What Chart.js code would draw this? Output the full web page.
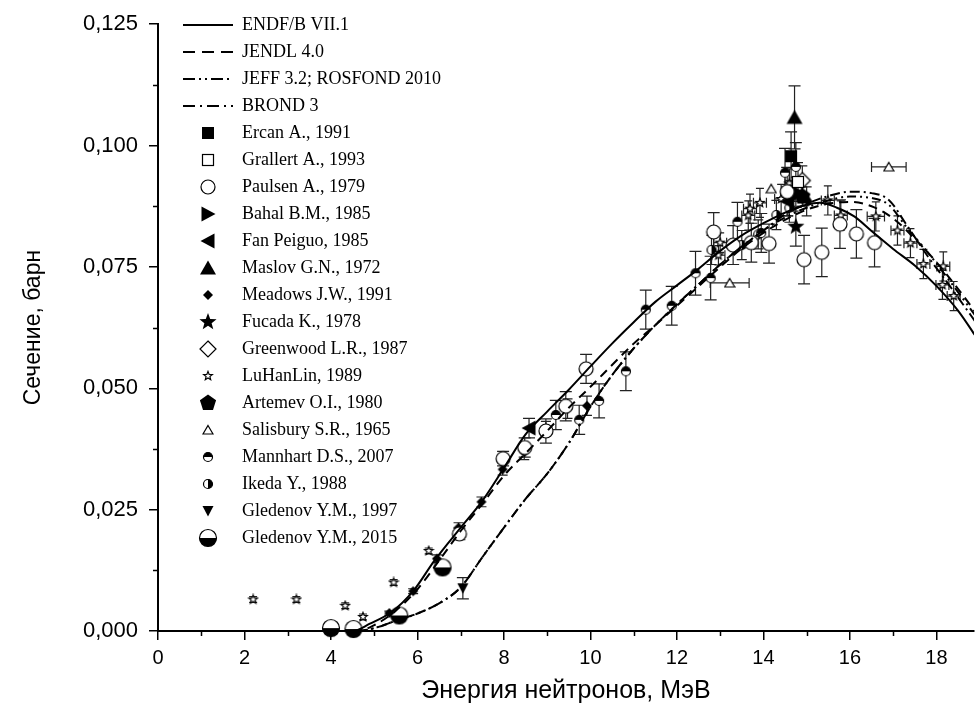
<!DOCTYPE html>
<html><head><meta charset="utf-8">
<script src="https://cdn.jsdelivr.net/npm/chart.js@4.4.0/dist/chart.umd.min.js"></script>
<style>html,body{margin:0;padding:0;background:#fff;overflow:hidden}</style>
</head><body>
<canvas id="c" width="979" height="718"></canvas>
<script>
// ---------- evaluated data (energy MeV, cross section barn) ----------
const endfE  = [0, 4.5, 4.9, 5.4, 5.9, 6.4, 7.0, 7.5, 8.0, 8.5, 9.0, 9.5, 10.0, 10.5, 11.0, 11.5, 12.0, 12.5, 13.0, 13.5, 14.0, 14.5, 15.0, 15.3, 15.7, 16.1, 16.5, 17.0, 17.5, 18.0, 18.5, 19.0];
const endfS  = [0, 0, 0.0015, 0.0039, 0.0082, 0.0146, 0.0213, 0.0268, 0.0336, 0.0405, 0.0452, 0.0497, 0.0545, 0.0592, 0.0636, 0.0678, 0.0712, 0.0746, 0.0783, 0.0815, 0.0840, 0.0862, 0.0878, 0.0882, 0.0872, 0.0854, 0.0824, 0.0787, 0.0753, 0.0711, 0.0660, 0.0595];
const jendlE = [0, 4.6, 5.0, 5.5, 6.0, 6.5, 7.0, 7.5, 8.0, 8.5, 9.0, 9.5, 10.0, 10.5, 11.0, 11.5, 12.0, 12.5, 13.0, 13.5, 14.0, 14.5, 15.0, 15.5, 16.0, 16.5, 17.0, 17.5, 18.0, 18.5, 19.0];
const jendlS = [0, 0, 0.0012, 0.0042, 0.0086, 0.0145, 0.0206, 0.0262, 0.0320, 0.0366, 0.0412, 0.0460, 0.0503, 0.0548, 0.0592, 0.0630, 0.0670, 0.0710, 0.0750, 0.0788, 0.0820, 0.0847, 0.0868, 0.0880, 0.0884, 0.0875, 0.0850, 0.0808, 0.0760, 0.0705, 0.0645];
const jeffE  = [0, 4.6, 5.0, 5.5, 6.0, 6.5, 7.0, 7.5, 8.0, 8.5, 9.0, 9.5, 10.0, 10.5, 11.0, 11.5, 12.0, 12.5, 13.0, 13.5, 14.0, 14.5, 15.0, 15.5, 16.0, 16.5, 16.9, 17.3, 17.8, 18.3, 18.8, 19.0];
const jeffS  = [0, 0, 0.0006, 0.0021, 0.0036, 0.0057, 0.0090, 0.0152, 0.0213, 0.0272, 0.0324, 0.0387, 0.0462, 0.0527, 0.0582, 0.0630, 0.0673, 0.0714, 0.0755, 0.0792, 0.0825, 0.0852, 0.0872, 0.0887, 0.0895, 0.0892, 0.0878, 0.0833, 0.0780, 0.0722, 0.0662, 0.0638];
const brondE = [0, 4.6, 5.0, 5.5, 6.0, 6.5, 7.0, 7.5, 8.0, 8.5, 9.0, 9.5, 10.0, 10.5, 11.0, 11.5, 12.0, 12.5, 13.0, 13.5, 14.0, 14.5, 15.0, 15.5, 16.0, 16.5, 16.9, 17.3, 17.8, 18.3, 18.8, 19.0];
const brondS = [0, 0, 0.0006, 0.0021, 0.0036, 0.0057, 0.0090, 0.0152, 0.0213, 0.0272, 0.0324, 0.0387, 0.0462, 0.0527, 0.0582, 0.0630, 0.0673, 0.0714, 0.0755, 0.0792, 0.0825, 0.0858, 0.0880, 0.0896, 0.0905, 0.0902, 0.0888, 0.0838, 0.0772, 0.0712, 0.0650, 0.0625];

// ---------- experimental data: [E, sigma, dSigma, dE] ----------
const ercan     = [[14.64, 0.0978, 0.005]];
const grallert  = [[14.8, 0.0925, 0.004]];
const paulsen   = [[6.97,0.0200,0.0012],[7.98,0.0355,0.0015],[8.48,0.0378,0.002],[8.97,0.0412,0.0025],[9.43,0.0463,0.003],[9.9,0.0540,0.003],[12.85,0.0822,0.004],[13.3,0.0795,0.004],[13.72,0.0800,0.004],[14.13,0.0798,0.004],[14.55,0.0905,0.005],[14.94,0.0765,0.005],[15.35,0.0780,0.005],[15.77,0.0838,0.005],[16.15,0.0818,0.005],[16.57,0.0800,0.005]];
const bahal     = [[14.75, 0.0905, 0.003]];
const fan       = [[8.58, 0.0418, 0.002],[14.55, 0.0885, 0.003]];
const maslov    = [[14.72, 0.1058, 0.0065]];
const meadows   = [[5.35,0.0037,0.0004],[5.9,0.0082,0.0005],[6.45,0.0149,0.0008],[6.95,0.0213,0.001],[7.48,0.0266,0.001],[7.97,0.0333,0.0012],[8.47,0.0368,0.0015],[8.97,0.0417,0.0015],[9.47,0.0458,0.002],[9.92,0.0464,0.002],[14.7,0.0895,0.003]];
const fucada    = [[14.75, 0.0833, 0.004]];
const greenwood = [[14.9, 0.0928, 0.003]];
const luhanlin  = [[2.2,0.0065,0.0006,0],[3.2,0.0065,0.0006,0],[4.33,0.0052,0.0006,0],[4.74,0.0029,0.0006,0],[5.45,0.0100,0.0006,0],[6.26,0.0165,0.0006,0],[12.96,0.0774,0.002,0.15],[13.0,0.0800,0.002,0.15],[13.65,0.0856,0.003,0.15],[13.69,0.0870,0.003,0.15],[13.92,0.0882,0.003,0.15],[14.41,0.0890,0.003,0.15],[14.6,0.0922,0.003,0.1],[15.49,0.0887,0.003,0.15],[15.79,0.0856,0.003,0.15],[16.6,0.0854,0.003,0.2],[17.1,0.0825,0.003,0.15],[17.4,0.0799,0.003,0.15],[17.7,0.0756,0.003,0.15],[18.16,0.0751,0.003,0.15],[18.14,0.0713,0.003,0.15],[18.4,0.0690,0.003,0.15]];
const artemev   = [[14.9, 0.0895, 0.002]];
const salisbury = [[13.22,0.0717,0,0.45],[14.18,0.0911,0,0],[16.9,0.0956,0,0.4]];
const mannhart  = [[9.2,0.0445,0.003],[9.74,0.0435,0.003],[10.2,0.0474,0.0035],[10.82,0.0535,0.004],[11.28,0.0662,0.004],[11.88,0.0670,0.004],[12.43,0.0737,0.0045],[12.78,0.0727,0.0045],[13.4,0.0843,0.004],[13.95,0.0820,0.004],[14.5,0.0944,0.005],[14.75,0.0956,0.005]];
const ikeda     = [[12.8,0.0785,0.003],[13.5,0.0795,0.003],[13.88,0.0817,0.003],[14.3,0.0857,0.003],[14.6,0.0872,0.003],[15.0,0.0885,0.003]];
const gled97    = [[7.05, 0.0088, 0.0022]];
const gled15    = [[4.0,0.0006,0.0006],[4.52,0.0004,0.0004],[5.58,0.0032,0.0005],[6.58,0.0131,0.0008]];

const xTickStep = 2, yTickStep = 0.025;

// ---------- marker images ----------
function mk(w, h, fn) {
  const c = document.createElement('canvas');
  c.width = w; c.height = h;
  const g = c.getContext('2d');
  g.translate(w / 2, h / 2);
  g.lineWidth = 1.2; g.strokeStyle = '#000'; g.fillStyle = '#000';
  fn(g);
  return c;
}
function poly(g, pts, fill, stroke) {
  g.beginPath(); g.moveTo(pts[0][0], pts[0][1]);
  for (let i = 1; i < pts.length; i++) g.lineTo(pts[i][0], pts[i][1]);
  g.closePath();
  if (fill) { g.fillStyle = fill; g.fill(); }
  if (stroke) { g.strokeStyle = stroke; g.stroke(); }
}
function starPts(ro, ri) {
  const p = [];
  for (let i = 0; i < 10; i++) { const r = i % 2 ? ri : ro; const a = -Math.PI / 2 + i * Math.PI / 5; p.push([r * Math.cos(a), r * Math.sin(a)]); }
  return p;
}
function ngon(n, r) { const p = []; for (let i = 0; i < n; i++) { const a = -Math.PI / 2 + i * 2 * Math.PI / n; p.push([r * Math.cos(a), r * Math.sin(a)]); } return p; }
function halfCircle(g, r, a0) {
  g.beginPath(); g.arc(0, 0, r, 0, 2 * Math.PI); g.fillStyle = '#fff'; g.fill();
  g.beginPath(); g.arc(0, 0, r, a0, a0 + Math.PI); g.closePath(); g.fillStyle = '#000'; g.fill();
  g.beginPath(); g.arc(0, 0, r, 0, 2 * Math.PI); g.stroke();
}
function lineSample(dash) {
  return mk(50, 6, g => { g.lineWidth = 2; g.setLineDash(dash); g.beginPath(); g.moveTo(-25, 0); g.lineTo(25, 0); g.stroke(); });
}
const M = {
  endf: lineSample([]),
  jendl: lineSample([12, 7]),
  jeff: lineSample([12, 4, 2, 4, 2, 4]),
  brond: lineSample([12, 5, 2, 5]),
  ercan: mk(14, 14, g => g.fillRect(-6, -6, 12, 12)),
  grallert: mk(14, 14, g => { g.fillStyle = '#fff'; g.fillRect(-5.5, -5.5, 11, 11); g.strokeRect(-5.5, -5.5, 11, 11); }),
  paulsen: mk(18, 18, g => { g.beginPath(); g.arc(0, 0, 7, 0, 2 * Math.PI); g.fillStyle = '#fff'; g.fill(); g.stroke(); }),
  bahal: mk(18, 18, g => poly(g, [[7.5, 0], [-6.5, -7.5], [-6.5, 7.5]], '#000')),
  fan: mk(18, 18, g => poly(g, [[-7.5, 0], [6.5, -7.5], [6.5, 7.5]], '#000')),
  maslov: mk(18, 18, g => poly(g, [[0, -7.5], [8, 6.5], [-8, 6.5]], '#000')),
  meadows: mk(12, 12, g => poly(g, [[0, -5], [5, 0], [0, 5], [-5, 0]], '#000')),
  fucada: mk(20, 20, g => poly(g, starPts(9, 3.8), '#000')),
  greenwood: mk(20, 20, g => poly(g, [[0, -8], [8, 0], [0, 8], [-8, 0]], '#fff', '#000')),
  luhanlin: mk(12, 12, g => poly(g, starPts(4.6, 2.0), '#fff', '#000')),
  artemev: mk(20, 20, g => poly(g, ngon(5, 8.5), '#000')),
  salisbury: mk(12, 12, g => poly(g, [[0, -4.5], [5, 4], [-5, 4]], '#fff', '#000')),
  mannhart: mk(12, 12, g => halfCircle(g, 4.5, Math.PI)),
  ikeda: mk(12, 12, g => halfCircle(g, 4.5, -Math.PI / 2)),
  gled97: mk(14, 14, g => poly(g, [[0, 5.5], [5.5, -5], [-5.5, -5]], '#000')),
  gled15: mk(20, 20, g => halfCircle(g, 8.5, 0))
};

// ---------- datasets ----------
const curve = (E, S) => E.map((e, i) => ({x: e, y: S[i]}));
const pts = arr => arr.map(p => ({x: p[0], y: p[1], dy: p[2] || 0, dx: p[3] || 0}));
function lineDs(label, E, S, dash, img) {
  return {type: 'line', label, data: curve(E, S), borderColor: '#000', backgroundColor: '#000', borderWidth: 2,
    borderDash: dash, pointRadius: 0, pointHoverRadius: 0, pointStyle: img, cubicInterpolationMode: 'monotone', showLine: true, fill: false};
}
function markDs(label, arr, img, cap) {
  return {type: 'scatter', label, data: pts(arr), pointStyle: img, pointRadius: 4, pointHoverRadius: 4,
    borderColor: '#000', backgroundColor: '#000', showLine: false, clip: false, errCap: cap};
}
const datasets = [
  lineDs('ENDF/B VII.1', endfE, endfS, [], M.endf),
  lineDs('JENDL 4.0', jendlE, jendlS, [9, 6], M.jendl),
  lineDs('JEFF 3.2; ROSFOND 2010', jeffE, jeffS, [9, 4, 2, 4, 2, 4], M.jeff),
  lineDs('BROND 3', brondE, brondS, [10, 4, 2, 4], M.brond),
  markDs('Ercan A., 1991', ercan, M.ercan, 6),
  markDs('Grallert A., 1993', grallert, M.grallert, 5),
  markDs('Paulsen A., 1979', paulsen, M.paulsen, 6),
  markDs('Bahal B.M., 1985', bahal, M.bahal, 5),
  markDs('Fan Peiguo, 1985', fan, M.fan, 6),
  markDs('Maslov G.N., 1972', maslov, M.maslov, 6),
  markDs('Meadows J.W., 1991', meadows, M.meadows, 5),
  markDs('Fucada K., 1978', fucada, M.fucada, 6),
  markDs('Greenwood L.R., 1987', greenwood, M.greenwood, 5),
  markDs('LuHanLin, 1989', luhanlin, M.luhanlin, 4),
  markDs('Artemev O.I., 1980', artemev, M.artemev, 5),
  markDs('Salisbury S.R., 1965', salisbury, M.salisbury, 5),
  markDs('Mannhart D.S., 2007', mannhart, M.mannhart, 6),
  markDs('Ikeda Y., 1988', ikeda, M.ikeda, 5),
  markDs('Gledenov Y.M., 1997', gled97, M.gled97, 6),
  markDs('Gledenov Y.M., 2015', gled15, M.gled15, 5)
];

// ---------- plugins ----------
const errorBars = {
  id: 'errorBars',
  beforeDatasetsDraw(chart) {
    const {ctx, scales: {x, y}} = chart;
    ctx.save();
    ctx.strokeStyle = '#222'; ctx.lineWidth = 1.2;
    chart.data.datasets.forEach((ds, i) => {
      if (!ds.errCap || !chart.isDatasetVisible(i)) return;
      const c = ds.errCap;
      ds.data.forEach(p => {
        const px = x.getPixelForValue(p.x), py = y.getPixelForValue(p.y);
        ctx.beginPath();
        if (p.dy) {
          const y1 = y.getPixelForValue(p.y - p.dy), y2 = y.getPixelForValue(p.y + p.dy);
          ctx.moveTo(px, y1); ctx.lineTo(px, y2);
          ctx.moveTo(px - c, y1); ctx.lineTo(px + c, y1);
          ctx.moveTo(px - c, y2); ctx.lineTo(px + c, y2);
        }
        if (p.dx) {
          const x1 = x.getPixelForValue(p.x - p.dx), x2 = x.getPixelForValue(p.x + p.dx);
          ctx.moveTo(x1, py); ctx.lineTo(x2, py);
          ctx.moveTo(x1, py - 5); ctx.lineTo(x1, py + 5);
          ctx.moveTo(x2, py - 5); ctx.lineTo(x2, py + 5);
        }
        ctx.stroke();
      });
    });
    ctx.restore();
  }
};
const minorTicks = {
  id: 'minorTicks',
  afterDraw(chart) {
    const {ctx, scales: {x, y}, chartArea: a} = chart;
    ctx.save(); ctx.strokeStyle = '#000'; ctx.lineWidth = 1.5; ctx.beginPath();
    for (let v = xTickStep / 2; v < x.max; v += xTickStep) {
      const px = Math.round(x.getPixelForValue(v)) + 0.5; ctx.moveTo(px, a.bottom); ctx.lineTo(px, a.bottom + 5);
    }
    for (let v = yTickStep / 2; v < y.max; v += yTickStep) {
      const py = Math.round(y.getPixelForValue(v)) + 0.5; ctx.moveTo(a.left, py); ctx.lineTo(a.left - 5, py);
    }
    ctx.stroke(); ctx.restore();
  }
};
const legendShift = {
  id: 'legendShift',
  afterLayout(chart) { if (chart.legend) { chart.legend.left += 16; chart.legend.top += 7; } }
};

new Chart(document.getElementById('c'), {
  type: 'scatter',
  data: {datasets},
  plugins: [errorBars, minorTicks, legendShift],
  options: {
    responsive: false, animation: false, devicePixelRatio: 1,
    layout: {padding: {top: 21, right: 0, bottom: 0, left: 0}},
    plugins: {
      tooltip: {enabled: false},
      legend: {
        position: 'chartArea', align: 'start',
        labels: {usePointStyle: true, pointStyleWidth: 50, padding: 9, color: '#000',
          font: {family: "'Liberation Serif', 'Times New Roman', serif", size: 18}}
      }
    },
    scales: {
      x: {
        type: 'linear', min: 0, max: 18.87,
        afterFit(s) { s.height = 87; },
        border: {display: true, color: '#000', width: 2},
        grid: {display: true, drawOnChartArea: false, drawTicks: true, tickLength: 9, color: '#000', lineWidth: 1.5},
        ticks: {stepSize: xTickStep, includeBounds: false, padding: 6, color: '#000',
          font: {family: "'Liberation Sans', Arial, sans-serif", size: 20},
          callback: v => String(v)},
        title: {display: true, text: 'Энергия нейтронов, МэВ', color: '#000',
          font: {family: "'Liberation Sans', Arial, sans-serif", size: 25}, padding: {top: 0, bottom: 12}}
      },
      y: {
        type: 'linear', min: 0, max: 0.125,
        afterFit(s) { s.width = 158; },
        border: {display: true, color: '#000', width: 2},
        grid: {display: true, drawOnChartArea: false, drawTicks: true, tickLength: 9, color: '#000', lineWidth: 1.5},
        ticks: {stepSize: yTickStep, includeBounds: false, padding: 11, color: '#000',
          font: {family: "'Liberation Sans', Arial, sans-serif", size: 22},
          callback: v => v.toFixed(3).replace('.', ',')},
        title: {display: true, text: 'Сечение, барн', color: '#000',
          font: {family: "'Liberation Sans', Arial, sans-serif", size: 23}, padding: {top: 20, bottom: 0}}
      }
    }
  }
});
</script>
</body></html>
